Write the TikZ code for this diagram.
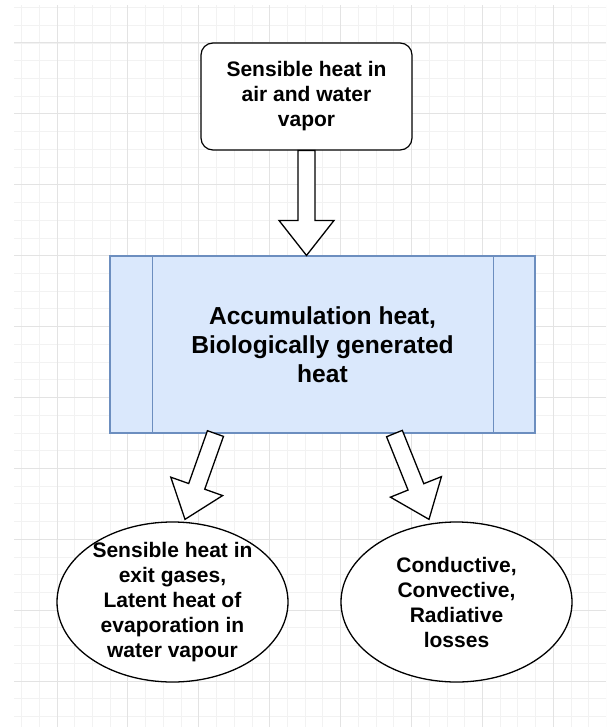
\documentclass[tikz,border=0pt]{standalone}
\usepackage{fontspec}
\setmainfont{Liberation Sans}
\usetikzlibrary{calc,shapes.geometric}
\definecolor{gridminor}{HTML}{F2F2F2}
\definecolor{gridmajor}{HTML}{E3E3E3}
\definecolor{boxfill}{HTML}{DAE8FC}
\definecolor{boxline}{HTML}{6C8EBF}
\tikzset{
  minorline/.style={draw=gridminor, line width=0.8pt},
  majorline/.style={draw=gridmajor, line width=1pt},
  topbox/.style={draw=black, fill=white, line width=1.2pt, rounded corners=12pt,
    minimum width=211pt, minimum height=107pt, align=center, inner sep=0pt,
    font=\bfseries\fontsize{21}{25}\selectfont},
  midbox/.style={draw=boxline, fill=boxfill, line width=1.1pt,
    minimum width=425pt, minimum height=177pt, align=center, inner sep=0pt,
    font=\bfseries\fontsize{24.6}{28.8}\selectfont},
  ellbox/.style={ellipse, draw=black, fill=white, line width=1.3pt,
    minimum width=231pt, minimum height=160pt, inner sep=0pt},
  elltext/.style={align=center, inner sep=0pt,
    font=\bfseries\fontsize{21}{25}\selectfont},
  flexarrow/.style={draw=black, fill=white, line width=1.3pt, line join=miter},
}
\newcommand\flexarr[2]{%
  \path coordinate (fa-p) at ($(#2)!35pt!(#1)$);
  \draw[flexarrow] ($(#1)!8.5pt!90:(#2)$) -- ($(fa-p)!8.5pt!90:(#2)$)
    -- ($(fa-p)!27.5pt!90:(#2)$) -- (#2) -- ($(fa-p)!27.5pt!-90:(#2)$)
    -- ($(fa-p)!8.5pt!-90:(#2)$) -- ($(#1)!8.5pt!-90:(#2)$) -- cycle;}
\begin{document}
\begin{tikzpicture}[x=1pt, y=-1pt]
\useasboundingbox (0,0) rectangle (606,727);
% grid background
\begin{scope}
  \clip (14,6) rectangle (606,727);
  \foreach \i in {0,...,34} {\path[minorline] ({3.8+17.725*\i},0) -- ({3.8+17.725*\i},727);}
  \foreach \i in {0,...,41} {\path[minorline] (0,{7.5+17.725*\i}) -- (606,{7.5+17.725*\i});}
  \foreach \i in {-1,...,8} {\path[majorline] ({57+70.9*\i},0) -- ({57+70.9*\i},727);}
  \foreach \i in {0,...,9} {\path[majorline] (0,{43+70.9*\i}) -- (606,{43+70.9*\i});}
\end{scope}
% nodes
\node[topbox] (top) at (306.5,96.5) {Sensible heat in\\air and water\\vapor};
\node[midbox] (mid) at (322.5,344.5) {Accumulation heat,\\Biologically generated\\heat};
\draw[draw=boxline, line width=1.1pt] ($(mid.north west)+(43,0)$) -- ($(mid.south west)+(43,0)$);
\draw[draw=boxline, line width=1.1pt] ($(mid.north east)+(-42,0)$) -- ($(mid.south east)+(-42,0)$);
\node[ellbox, label={[elltext]center:{Sensible heat in\\exit gases,\\Latent heat of\\evaporation in\\water vapour}}] (lft) at (172.5,602) {};
\node[ellbox, label={[elltext]center:{Conductive,\\Convective,\\Radiative\\losses}}] (rgt) at (456.5,602) {};
% connector end points
\coordinate (ta-e) at (top.south |- mid.north);
\coordinate (la-s) at ($(mid.south west)+(106,0)$);
\coordinate (la-e) at ($(lft.north)+(12.5,-2)$);
\coordinate (ra-s) at ($(mid.south west)+(285,0)$);
\coordinate (ra-e) at ($(rgt.north)+(-27.5,-2)$);
% block arrows
\flexarr{top.south}{ta-e}
\flexarr{la-s}{la-e}
\flexarr{ra-s}{ra-e}
\end{tikzpicture}
\end{document}
